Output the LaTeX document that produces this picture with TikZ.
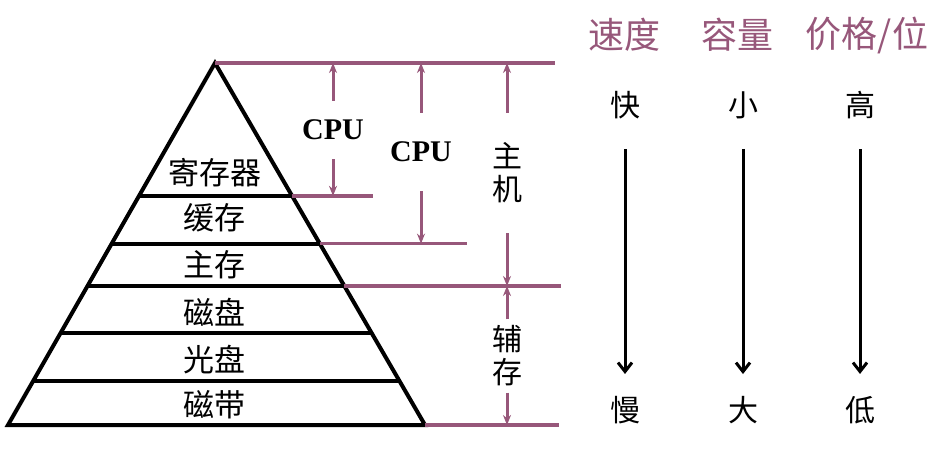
\documentclass[tikz,border=0pt]{standalone}
\usepackage{fontspec}
\setmainfont{Liberation Serif}
\newfontfamily\cjk{Noto Sans CJK SC}
\usepackage{xcolor}
\definecolor{plum}{HTML}{97577A}
\usetikzlibrary{arrows.meta,calc}
\tikzset{
  tier/.style  = {line width=4pt, draw=black},
  level/.style = {line width=3.5pt, draw=plum},
  parr/.style  = {-{Stealth[length=10pt,width=8pt]}, line width=3pt, draw=plum},
  darr/.style  = {-{Straight Barb[length=9pt,width=14pt]}, line width=3pt,
                  shorten <=30pt, shorten >=22pt},
  layer/.style = {font=\cjk\fontsize{31}{31}\selectfont, inner sep=0pt},
  cpu/.style   = {font=\bfseries\fontsize{30}{30}\selectfont, inner sep=0pt},
  vlab/.style  = {font=\cjk\fontsize{30}{33}\selectfont, align=center,
                  inner sep=0pt},
  head/.style  = {font=\cjk\fontsize{36}{36}\selectfont, text=plum,
                  inner sep=0pt},
  trend/.style = {font=\cjk\fontsize{30}{30}\selectfont, inner sep=0pt}
}
\begin{document}
\begin{tikzpicture}[x=1pt,y=-1pt]
  \useasboundingbox (0,0) rectangle (942,463);
  % pyramid
  \coordinate (top) at (215,63);
  \coordinate (bl) at (8,425);
  \coordinate (br) at (425,425);
  \draw[tier, line join=miter] (bl) -- (top) -- (br) -- cycle;
  \foreach \t/\n in {0.367/1,0.499/2,0.616/3,0.745/4,0.879/5}{
    \coordinate (l\n) at ($(top)!\t!(bl)$);
    \coordinate (r\n) at ($(top)!\t!(br)$);
    \draw[tier] (l\n) -- (r\n);
  }
  \node[layer] (reg)  at (215,173) {寄存器};
  \node[layer] (cache) at (214,218) {缓存};
  \node[layer] (mem)  at (214,265) {主存};
  \node[layer] (disk) at (214,312) {磁盘};
  \node[layer] (cd)   at (214,360) {光盘};
  \node[layer] (tape) at (214,405) {磁带};
  % levels
  \draw[level] (top) -- ++(340,0);
  \draw[level] (r1) -- (373,0 |- r1);
  \draw[level] (r2) -- (467,0 |- r2);
  \draw[level] (r3) -- (561,0 |- r3);
  \draw[level] (br) -- ++(134,0);
  % ranges
  \node[cpu, minimum height=58pt] (cpu1) at (333,130) {CPU};
  \node[cpu, minimum height=78pt] (cpu2) at (421,152) {CPU};
  \node[vlab, minimum height=120pt] (host) at (507,173) {主\\机};
  \node[vlab, minimum height=73pt] (aux) at (507,356) {辅\\存};
  \draw[parr] (cpu1.north) -- (cpu1.north |- top);
  \draw[parr] (cpu1.south) -- (cpu1.south |- r1);
  \draw[parr] (cpu2.north) -- (cpu2.north |- top);
  \draw[parr] (cpu2.south) -- (cpu2.south |- r2);
  \draw[parr] (host.north) -- (host.north |- top);
  \draw[parr] (host.south) -- (host.south |- r3);
  \draw[parr] (aux.north) -- (aux.north |- r3);
  \draw[parr] (aux.south) -- (aux.south |- br);
  % trends
  \node[head] (speed) at (624,35) {速度};
  \node[head] (size)  at (737,35) {容量};
  \node[head] (price) at (867,35) {价格/位};
  \node[trend] (fast)  at (625,105) {快};
  \node[trend] (small) at (743,105) {小};
  \node[trend] (high)  at (860,105) {高};
  \node[trend] (slow)  at (625,410) {慢};
  \node[trend] (big)   at (743,410) {大};
  \node[trend] (low)   at (860,410) {低};
  \foreach \a/\b in {fast/slow,small/big,high/low}
    \draw[darr] (\a.south) -- (\b.north);
\end{tikzpicture}
\end{document}
